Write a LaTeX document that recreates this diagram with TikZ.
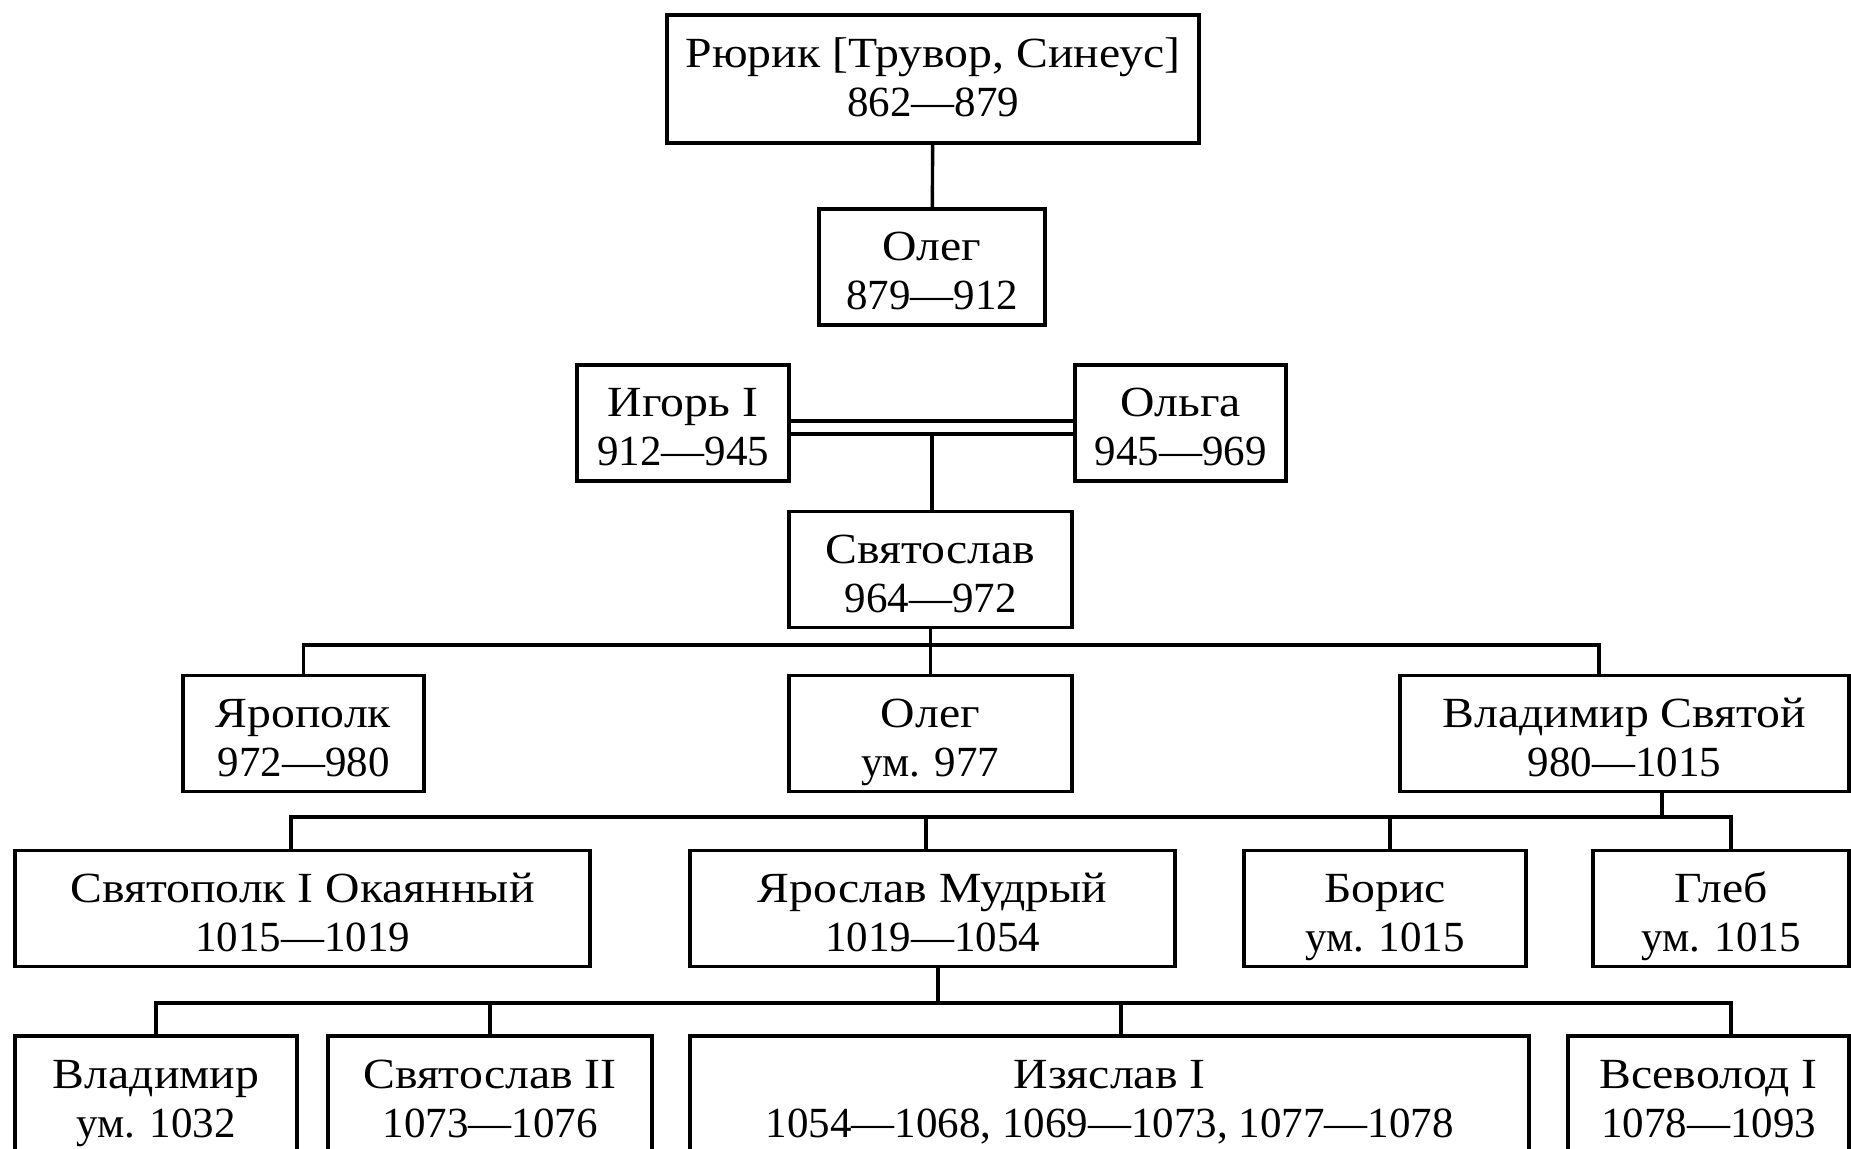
\documentclass[tikz,border=0pt]{standalone}
\usepackage{fontspec}
\setmainfont{Liberation Serif}[FakeStretch=1.11]
\newfontfamily\yrfont{Liberation Serif}
\usetikzlibrary{positioning}
\tikzset{>=stealth}
\newcommand{\boxfont}{\fontsize{21.5}{24.5}\selectfont\lineskiplimit-100pt\relax}
\newcommand{\ps}{\rule[-5pt]{0pt}{28.5pt}}
\newcommand{\prince}[2]{\ps #1\\\ps{\yrfont #2}}

\begin{document}
\begin{tikzpicture}[x=0.5pt, y=-0.5pt, line width=1.7pt,
		box/.style={draw, rectangle, align=center, inner sep=0pt,
			minimum height=58pt, font=\boxfont}]
		\useasboundingbox (0,0) rectangle (1851,1149);
		%% Princes
		\node [box, minimum width=266pt, minimum height=64pt] at (933,79) (Rur) {\prince{Рюрик [Трувор, Синеус]}{862—879\rule[-10pt]{0pt}{0pt}}};
		\node [box, minimum width=113pt] at (932,267) (Ol) {\prince{Олег}{879—912}};
		\node [box, minimum width=106pt] at (683,423) (Ig) {\prince{Игорь I}{912—945}};
		\node [box, minimum width=105.5pt] at (1180.5,423) (Olg) {\prince{Ольга}{945—969}};
		\node [box, minimum width=141.5pt] at (930.5,569.5) (Sv) {\prince{Святослав}{964—972}};
		\node [box, minimum width=120.5pt] at (303.5,733.5) (Yrp) {\prince{Ярополк}{972—980}};
		\node [box, minimum width=141.5pt] at (930.5,733.5) (OlB) {\prince{Олег}{ум. 977}};
		\node [box, minimum width=224.5pt] at (1624.5,733.5) (VlS) {\prince{Владимир Святой}{980—1015}};
		\node [box, minimum width=287.5pt] at (302.5,908.5) (Stp) {\prince{Святополк I Окаянный}{1015—1019}};
		\node [box, minimum width=242.5pt] at (932.5,908.5) (Yrs) {\prince{Ярослав Мудрый}{1019—1054}};
		\node [box, minimum width=141pt] at (1385,908.5) (Bor) {\prince{Борис}{ум. 1015}};
		\node [box, minimum width=128pt] at (1721,908.5) (Glb) {\prince{Глеб}{ум. 1015}};
		\node [box, minimum width=141pt] at (156,1094) (Vl) {\prince{Владимир}{ум. 1032}};
		\node [box, minimum width=162pt] at (490,1094) (SvB) {\prince{Святослав II}{1073—1076}};
		\node [box, minimum width=419.5pt] at (1109.5,1094) (Izs) {\prince{Изяслав I}{1054—1068, 1069—1073, 1077—1078}};
		\node [box, minimum width=140.5pt] at (1708.5,1094) (Vsv) {\prince{Всеволод I}{1078—1093}};
		%% Lines
		\draw (Rur) -- (Ol);
		\draw ([yshift=1pt]Ig.east) -- ([yshift=1pt]Olg.west);
		\draw ([yshift=-5.5pt]Ig.east) -- coordinate (wed) ([yshift=-5.5pt]Olg.west);
		\draw (wed) -- (wed |- Sv.north);
		\coordinate (fork1) at (929,645);
		\draw (Sv) -- (OlB);
		\draw (Yrp.north) |- (fork1) -| ([xshift=-12.75pt]VlS.north);
		\coordinate (fork2) at (1662,817);
		\draw ([xshift=18.75pt]VlS.south) -- (fork2);
		\draw ([xshift=-5.75pt]Stp.north) |- (fork2) -| ([xshift=5pt]Glb.north);
		\draw ([xshift=-3.25pt]Yrs.north) |- (fork2);
		\draw ([xshift=2.5pt]Bor.north) |- (fork2);
		\coordinate (fork3) at (938,1003);
		\draw ([xshift=2.75pt]Yrs.south) -- (fork3);
		\draw (Vl.north) |- (fork3) -| ([xshift=11.25pt]Vsv.north);
		\draw (SvB.north) |- (fork3);
		\draw ([xshift=5.75pt]Izs.north) |- (fork3);
	\end{tikzpicture}
\end{document}
